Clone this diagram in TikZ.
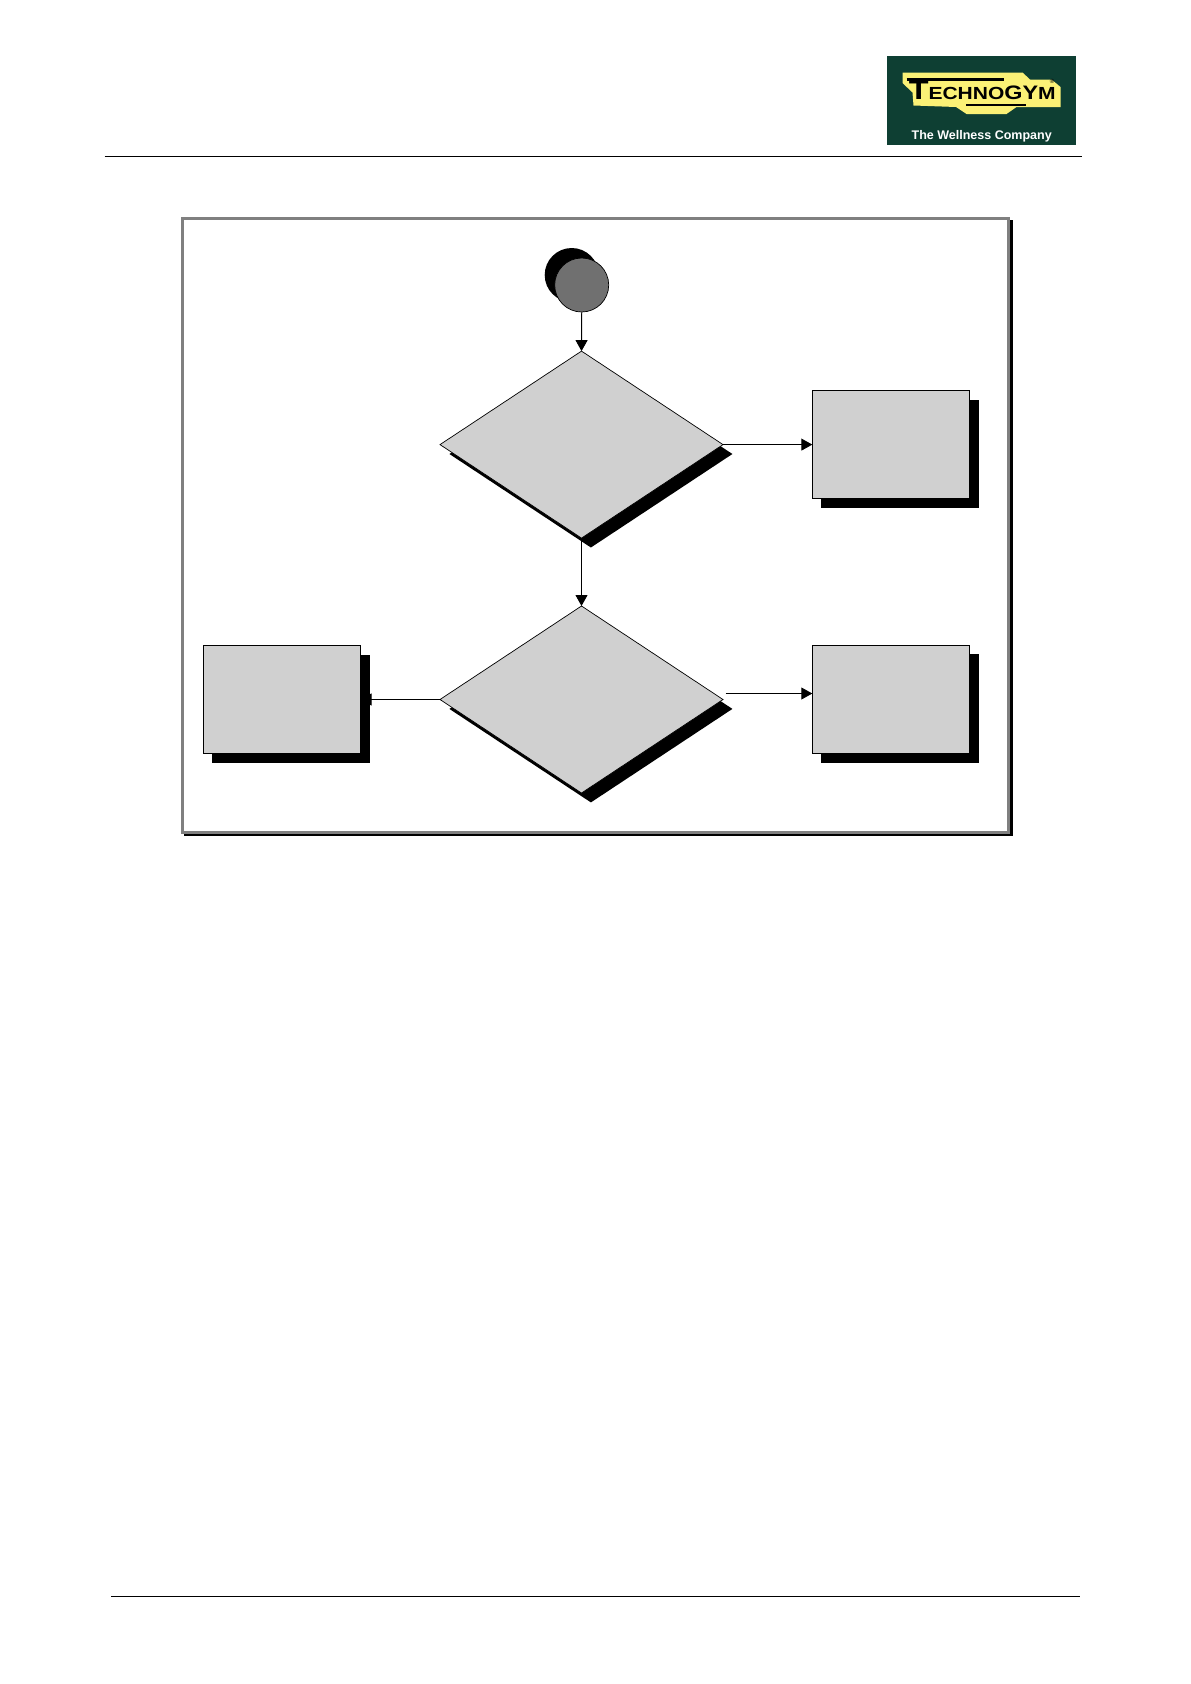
\documentclass[tikz,border=0pt]{standalone}
\usepackage{fontspec}
\setmainfont{Liberation Sans}
\usetikzlibrary{shapes.geometric,arrows.meta,shadows,backgrounds}
\definecolor{shapefill}{HTML}{D0D0D0}
\definecolor{startfill}{HTML}{707070}
\definecolor{framegray}{HTML}{808080}
\definecolor{logogreen}{HTML}{0E3F33}
\definecolor{logoyellow}{HTML}{FBF176}
\tikzset{
  x=1pt,y=-1pt,
  hardbox/.style={general shadow={shadow xshift=9.3pt,shadow yshift=-9.3pt,shadow scale=1.006,fill=black}},
  harddiamond/.style={general shadow={shadow xshift=9.4pt,shadow yshift=-9.4pt,fill=black}},
  stepbox/.style={rectangle,draw=black,line width=0.9pt,fill=shapefill,hardbox,
    minimum width=157pt,minimum height=108pt,inner sep=0pt,outer sep=0pt},
  choice/.style={diamond,draw=black,line width=0.7pt,fill=shapefill,harddiamond,
    minimum width=283pt,minimum height=187pt,inner sep=0pt,outer sep=0pt},
  start/.style={circle,draw=black,line width=0.7pt,fill=startfill,
    general shadow={shadow xshift=-10pt,shadow yshift=10pt,fill=black},
    minimum size=54pt,inner sep=0pt,outer sep=0pt},
  link/.style={draw=black,line width=0.9pt,-{Triangle[length=11pt,width=12pt]}},
  rule/.style={draw=black,line width=1pt},
}
\begin{document}
\begin{tikzpicture}
\useasboundingbox (0,0) rectangle (1191,1684);
% header and footer
\coordinate (hl) at (104.5,156.5); \coordinate (hr) at (1082,156.5);
\coordinate (fl) at (111,1596); \coordinate (fr) at (1080,1596);
\draw[rule] (hl) -- (hr);
\draw[rule] (fl) -- (fr);
% logo
\fill[logogreen] (887,56) rectangle (1075.7,144.7);
\fill[logoyellow] (902.5,72.5) -- (1022.5,72.5) -- (1030,79.5) -- (1051.5,79.5) -- (1060.5,87) -- (1060.5,107)
  -- (1016.5,107) -- (1006.5,114) -- (966.5,114) -- (956,107) -- (913.5,105.5) -- (912.5,92.5) -- (902.5,83) -- cycle;
\draw[black,line width=2.4pt] (906.5,79.5) -- (1004,79.5);
\draw[black,line width=2.4pt] (966,105) -- (1026,105);
\node[anchor=base west,inner sep=0pt,font=\bfseries,xscale=1.2] (brand) at (908.5,99.5)
  {{\fontsize{27}{27}\selectfont T}{\fontsize{17.5}{17.5}\selectfont ECHNO}{\fontsize{19.5}{19.5}\selectfont GY}{\fontsize{17.5}{17.5}\selectfont M}};
\node[inner sep=0pt,font=\fontsize{6}{6}\selectfont] (reg) at (1052,81) {®};
\node[anchor=base,inner sep=0pt,text=white,font=\bfseries\fontsize{12.5}{12.5}\selectfont] (claim) at (981.7,139)
  {The Wellness Company};
% frame
\fill[black] (184,834) rectangle (1013,836.3);
\fill[black] (1010,220) rectangle (1013,836.3);
\fill[framegray] (181,217) rectangle (1010,220);
\fill[framegray] (181,217) rectangle (184,834);
\fill[framegray] (181,831) rectangle (1010,834);
\fill[framegray] (1007,217) rectangle (1010,834);
% shapes
\node[start] (s) at (581.7,285) {};
\node[choice] (d1) at (581.5,444.6) {};
\node[choice] (d2) at (581.5,699.5) {};
\node[stepbox] (b1) at (890.8,444.6) {};
\node[stepbox] (b2) at (890.8,699.3) {};
\node[stepbox] (b3) at (282,699.5) {};
\coordinate (d2out) at ([xshift=2.5pt,yshift=6pt]d2.east);
\coordinate (b2in) at (b2.west |- d2out);
% connectors
\begin{scope}[on background layer]
\draw[link] (s.south) -- (d1.north);
\draw[link] (d1.east) -- (b1.west);
\draw[link] (d1.south) -- (d2.north);
\draw[link] (d2.west) -- (b3.east);
\draw[link] (d2out) -- (b2in);
\end{scope}
\end{tikzpicture}
\end{document}
